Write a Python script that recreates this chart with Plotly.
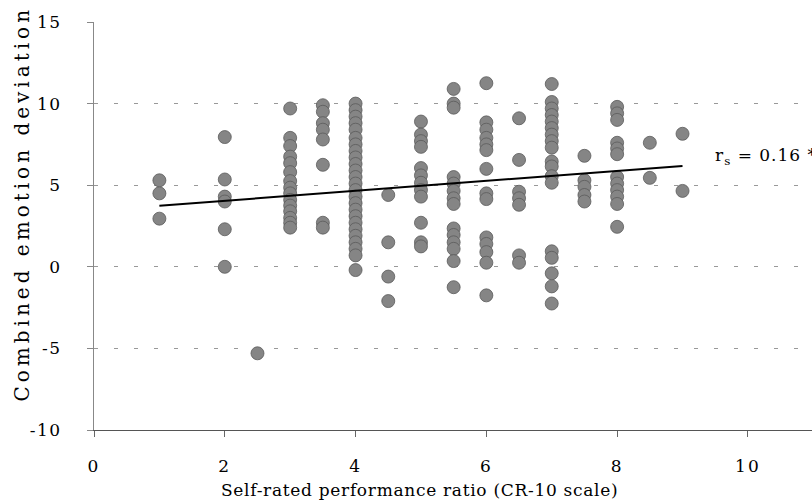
import plotly.graph_objects as go

# Self-rated performance ratio levels (CR-10 scale)
ratings = [1, 2, 2.5, 3, 3.5, 4, 4.5, 5, 5.5, 6, 6.5, 7, 7.5, 8, 8.5, 9]

# Combined emotion deviation values observed at each rating level
deviations = [
    [5.3, 4.5, 2.95],
    [7.95, 5.35, 4.3, 4.0, 2.3, 0.0],
    [-5.3],
    [9.7, 7.9, 7.4, 6.75, 6.35, 5.8, 5.25, 4.85, 4.5, 4.1, 3.75, 3.4, 3.0, 2.7, 2.4],
    [9.9, 9.5, 8.8, 8.4, 7.8, 6.25, 2.7, 2.4],
    [10.0, 9.6, 9.2, 8.8, 8.4, 7.9, 7.5, 7.1, 6.7, 6.3, 5.9, 5.5, 5.1, 4.7, 4.3,
     3.9, 3.5, 3.1, 2.7, 2.3, 1.9, 1.5, 1.1, 0.7, -0.2],
    [4.4, 1.5, -0.6, -2.1],
    [8.9, 8.1, 7.7, 7.35, 6.05, 5.6, 5.15, 4.7, 4.3, 2.7, 1.5, 1.25],
    [10.9, 10.0, 9.75, 5.5, 5.1, 4.65, 4.2, 3.85, 2.35, 1.95, 1.5, 1.1, 0.35, -1.25],
    [11.25, 8.85, 8.4, 7.9, 7.5, 7.15, 6.0, 4.5, 4.15, 1.8, 1.4, 0.9, 0.25, -1.75],
    [9.1, 6.55, 4.6, 4.2, 3.8, 0.7, 0.25],
    [11.2, 10.1, 9.7, 9.3, 8.9, 8.5, 8.1, 7.7, 7.3, 6.45, 6.15, 5.55, 5.15,
     0.95, 0.55, -0.4, -1.2, -2.25],
    [6.8, 5.3, 4.9, 4.4, 4.0],
    [9.8, 9.4, 9.0, 7.6, 7.25, 6.9, 5.5, 5.1, 4.7, 4.3, 3.85, 2.45],
    [7.6, 5.45],
    [8.15, 4.65],
]

# Fitted trend line end points
trend_x = [1, 9]
trend_y = [3.74, 6.18]

x_ticks = [0, 2, 4, 6, 8, 10]
x_tick_labels = ["0", "2", "4", "6", "8", "10"]
y_ticks = [-10, -5, 0, 5, 10, 15]
y_tick_labels = ["-10", "-5", "0", "5", "10", "15"]

xs, ys = [], []
for r, vals in zip(ratings, deviations):
    for v in vals:
        xs.append(r)
        ys.append(v)

FONT = "DejaVu Serif"


def spaced(text, px):
    return '<span style="letter-spacing:%spx">%s</span>' % (px, text)


fig = go.Figure()
fig.add_trace(go.Scatter(
    x=xs, y=ys, mode="markers",
    marker=dict(size=13, color="#858585", line=dict(color="#5a5a5a", width=0.8)),
    showlegend=False, hoverinfo="x+y",
))
fig.add_trace(go.Scatter(
    x=trend_x, y=trend_y, mode="lines",
    line=dict(color="black", width=2),
    showlegend=False,
))

fig.add_annotation(
    x=9.46, y=6.75, xref="x", yref="y",
    text=spaced("r<sub>s</sub> = 0.16 *", 1.0), showarrow=False,
    xanchor="left", yanchor="middle",
    font=dict(family=FONT, size=17, color="black"),
)
fig.add_annotation(
    x=-0.1003, y=0.555, xref="paper", yref="paper",
    text=spaced("Combined emotion deviation", 4.0), textangle=-90, showarrow=False,
    xanchor="center", yanchor="middle",
    font=dict(family=FONT, size=20, color="black"),
)
fig.add_annotation(
    x=0.454, y=-0.147, xref="paper", yref="paper",
    text=spaced("Self-rated performance ratio (CR-10 scale)", 0.7), showarrow=False,
    xanchor="center", yanchor="middle",
    font=dict(family=FONT, size=17, color="black"),
)

fig.update_layout(
    width=812, height=502,
    margin=dict(l=94, r=0, t=22, b=72, pad=0),
    paper_bgcolor="white", plot_bgcolor="white",
    xaxis=dict(
        range=[0, 10.98], tickvals=x_ticks,
        ticktext=[spaced(t, 2) for t in x_tick_labels],
        ticks="outside", ticklen=6,
        tickcolor="#666", showline=True, linecolor="#555", linewidth=1,
        showgrid=False, zeroline=False, ticklabelstandoff=15,
        tickfont=dict(family=FONT, size=17, color="black"),
    ),
    yaxis=dict(
        range=[-10, 15], tickvals=y_ticks,
        ticktext=[spaced(t, 1.5) for t in y_tick_labels],
        ticks="outside", ticklen=6,
        tickcolor="#888", showline=True, linecolor="#888", linewidth=1,
        showgrid=True, gridcolor="#999", gridwidth=1, griddash="4px,16px",
        zeroline=False, ticklabelstandoff=22,
        tickfont=dict(family=FONT, size=17, color="black"),
    ),
)

fig.write_html("out.html")
